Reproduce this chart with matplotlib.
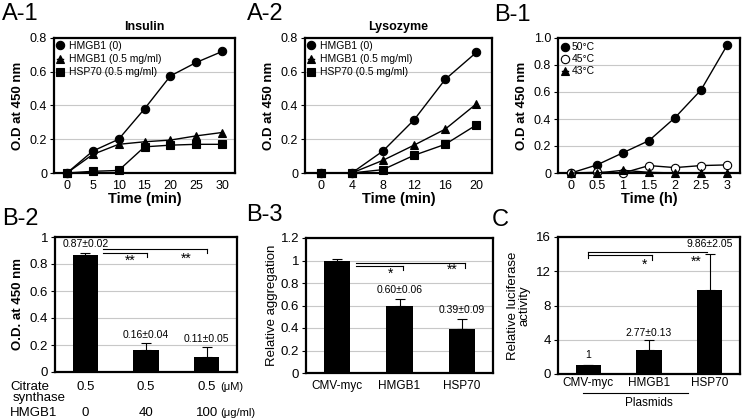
import matplotlib
matplotlib.use("Agg")
import matplotlib.pyplot as plt
import numpy as np

plt.rcParams['font.family'] = ['Liberation Sans', 'DejaVu Sans']

# A-1 insulin
ins_time = ["0", "5", "10", "15", "20", "25", "30"]
ins_hmgb1_0 = [0, 0.13, 0.20, 0.38, 0.575, 0.655, 0.72]
ins_hmgb1_05 = [0, 0.11, 0.17, 0.185, 0.195, 0.22, 0.24]
ins_hsp70 = [0, 0.01, 0.015, 0.155, 0.165, 0.17, 0.17]

# A-2 lysozyme
lys_time = ["0", "4", "8", "12", "16", "20"]
lys_hmgb1_0 = [0, 0, 0.13, 0.315, 0.555, 0.715]
lys_hmgb1_05 = [0, 0, 0.075, 0.165, 0.26, 0.41]
lys_hsp70 = [0, 0, 0.02, 0.105, 0.17, 0.285]

# B-1 temperature
heat_time = ["0", "0.5", "1", "1.5", "2", "2.5", "3"]
heat_50 = [0, 0.06, 0.15, 0.24, 0.41, 0.615, 0.945]
heat_45 = [0, 0.005, 0.0, 0.055, 0.04, 0.055, 0.06]
heat_43 = [0, 0, 0.02, 0.005, 0, 0, 0]

# B-2
cs_vals = [0.87, 0.16, 0.11]
cs_err = [0.015, 0.055, 0.075]
cs_labels = ["0.87±0.02", "0.16±0.04", "0.11±0.05"]
cs_conc = ["0.5", "0.5", "0.5"]
cs_hmgb1 = ["0", "40", "100"]

# B-3
agg_names = ["CMV-myc", "HMGB1", "HSP70"]
agg_vals = [1.0, 0.60, 0.39]
agg_err = [0.01, 0.06, 0.09]
agg_labels = ["", "0.60±0.06", "0.39±0.09"]

# C
luc_names = ["CMV-myc", "HMGB1", "HSP70"]
luc_vals = [1.0, 2.77, 9.86]
luc_err = [0.05, 1.25, 4.1]
luc_labels = ["1", "2.77±0.13", "9.86±2.05"]

W, H = 744, 420
fig = plt.figure(figsize=(7.44, 4.2), dpi=100)


def add_ax(left, top, right, bottom):
    return fig.add_axes([left / W, 1 - bottom / H, (right - left) / W, (bottom - top) / H])


def style(ax, yticks, ylabels, ylim, fs=9, xpad=5):
    ax.set_ylim(*ylim)
    ax.set_yticks(yticks)
    ax.set_yticklabels(ylabels, fontsize=fs)
    ax.yaxis.grid(True, color='#c8c8c8', lw=0.8)
    ax.set_axisbelow(True)
    for s in ax.spines.values():
        s.set_linewidth(1.6)
    ax.tick_params(axis='y', length=3, width=0.8, pad=2)
    ax.tick_params(axis='x', length=0, labelsize=fs, pad=xpad)


def line_panel(ax, cats, series, legend_labels, markers, fills):
    x = np.arange(len(cats))
    for ys, lab, m, f in zip(series, legend_labels, markers, fills):
        ax.plot(x, ys, color='black', lw=1, marker=m, ms=6,
                mfc='black' if f else 'white', mec='black', mew=0.8,
                label=lab, clip_on=False, zorder=3)
    ax.set_xlim(-0.5, len(cats) - 0.5)
    ax.set_xticks(x)
    ax.set_xticklabels(cats)


leg_kw = dict(loc='upper left', frameon=False, fontsize=7.5, handlelength=0.6,
              handletextpad=0.5, borderaxespad=0.1, labelspacing=0.3, borderpad=0.2)

# A-1
ax1 = add_ax(54, 38, 235, 173)
line_panel(ax1, ins_time, [ins_hmgb1_0, ins_hmgb1_05, ins_hsp70],
           ["HMGB1 (0)", "HMGB1 (0.5 mg/ml)", "HSP70 (0.5 mg/ml)"], ['o', '^', 's'], [1, 1, 1])
style(ax1, [0, 0.2, 0.4, 0.6, 0.8], ["0", "0.2", "0.4", "0.6", "0.8"], (0, 0.8))
ax1.legend(**leg_kw)
ax1.set_title("Insulin", fontsize=9, fontweight='bold', pad=6)
ax1.set_ylabel("O.D at 450 nm", fontsize=9.5, fontweight='bold', labelpad=4)
ax1.set_xlabel("Time (min)", fontsize=10.5, fontweight='bold', labelpad=0)

# A-2
ax2 = add_ax(305, 38, 492, 173)
line_panel(ax2, lys_time, [lys_hmgb1_0, lys_hmgb1_05, lys_hsp70],
           ["HMGB1 (0)", "HMGB1 (0.5 mg/ml)", "HSP70 (0.5 mg/ml)"], ['o', '^', 's'], [1, 1, 1])
style(ax2, [0, 0.2, 0.4, 0.6, 0.8], ["0", "0.2", "0.4", "0.6", "0.8"], (0, 0.8))
ax2.legend(**leg_kw)
ax2.set_title("Lysozyme", fontsize=9, fontweight='bold', pad=6)
ax2.set_ylabel("O.D at 450 nm", fontsize=9.5, fontweight='bold', labelpad=4)
ax2.set_xlabel("Time (min)", fontsize=10.5, fontweight='bold', labelpad=0)

# B-1
ax3 = add_ax(558, 38, 740, 173)
line_panel(ax3, heat_time, [heat_50, heat_45, heat_43],
           ["50°C", "45°C", "43°C"], ['o', 'o', '^'], [1, 0, 1])
style(ax3, [0, 0.2, 0.4, 0.6, 0.8, 1.0], ["0", "0.2", "0.4", "0.6", "0.8", "1.0"], (0, 1.0))
ax3.legend(loc='upper left', frameon=False, fontsize=7.5, handlelength=0.6, handletextpad=0.3,
           borderaxespad=0.2, labelspacing=0.2, borderpad=0.2)
ax3.set_ylabel("O.D at 450 nm", fontsize=9.5, fontweight='bold', labelpad=4)
ax3.set_xlabel("Time (h)", fontsize=10.5, fontweight='bold', labelpad=0)


def bar_panel(ax, vals, err, bw=0.42):
    x = np.arange(len(vals))
    ax.bar(x, vals, width=bw, color='black', zorder=2)
    ax.errorbar(x, vals, yerr=[np.zeros(len(vals)), err], fmt='none', ecolor='black',
                elinewidth=0.8, capsize=3.5, capthick=0.8, zorder=3)
    ax.set_xlim(-0.5, len(vals) - 0.5)
    ax.set_xticks(x)
    return x


def bracket(ax, x0, x1, y, drop, side):
    ax.plot([x0, x1], [y, y], color='black', lw=0.8)
    xe = x1 if side == 'right' else x0
    ax.plot([xe, xe], [y, y - drop], color='black', lw=0.8)


# B-2
ax4 = add_ax(55, 237, 237, 372)
x4 = bar_panel(ax4, cs_vals, cs_err)
style(ax4, [0, 0.2, 0.4, 0.6, 0.8, 1.0], ["0", "0.2", "0.4", "0.6", "0.8", "1"], (0, 1.0), fs=9.5)
ax4.set_xticklabels([])
ax4.set_ylabel("O.D. at 450 nm", fontsize=9.5, fontweight='bold', labelpad=4)
for xi, v, e, lab in zip(x4, cs_vals, cs_err, cs_labels):
    yy = 0.948 if v > 0.5 else v + e + 0.06
    ax4.text(xi, yy, lab, ha='center', va='center', fontsize=7.5)
bracket(ax4, 0.29, 2.0, 0.911, 0.03, 'right')
bracket(ax4, 0.29, 1.02, 0.881, 0.03, 'right')
ax4.text(0.74, 0.825, "**", ha='center', va='center', fontsize=10)
ax4.text(1.66, 0.835, "**", ha='center', va='center', fontsize=10)
for xi, c, h in zip(x4, cs_conc, cs_hmgb1):
    ax4.text(xi, -0.11, c, ha='center', va='center', fontsize=9.5)
    ax4.text(xi, -0.30, h, ha='center', va='center', fontsize=9.5)
ax4.text(-1.24, -0.11, "Citrate", ha='left', va='center', fontsize=9.5)
ax4.text(-1.19, -0.19, "synthase", ha='left', va='center', fontsize=9.5)
ax4.text(-1.24, -0.30, "HMGB1", ha='left', va='center', fontsize=9.5)
ax4.text(2.23, -0.11, "(μM)", ha='left', va='center', fontsize=8)
ax4.text(2.23, -0.30, "(μg/ml)", ha='left', va='center', fontsize=8)

# B-3
ax5 = add_ax(306, 238, 493, 373)
x5 = bar_panel(ax5, agg_vals, agg_err)
style(ax5, [0, 0.2, 0.4, 0.6, 0.8, 1.0, 1.2], ["0", "0.2", "0.4", "0.6", "0.8", "1", "1.2"],
      (0, 1.2), fs=9.5)
ax5.set_xticklabels(agg_names, fontsize=8.5)
ax5.set_ylabel("Relative aggregation", fontsize=9.5, labelpad=2)
for xi, v, e, lab in zip(x5, agg_vals, agg_err, agg_labels):
    if lab:
        ax5.text(xi, v + e + 0.08, lab, ha='center', va='center', fontsize=7.5)
bracket(ax5, 0.3, 2.05, 0.975, 0.04, 'right')
bracket(ax5, 0.3, 1.05, 0.955, 0.04, 'right')
ax5.text(0.85, 0.88, "*", ha='center', va='center', fontsize=10)
ax5.text(1.85, 0.915, "**", ha='center', va='center', fontsize=10)

# C
ax6 = add_ax(558, 237, 740, 374)
x6 = bar_panel(ax6, luc_vals, luc_err)
style(ax6, [0, 4, 8, 12, 16], ["0", "4", "8", "12", "16"], (0, 16), fs=9.5, xpad=2)
ax6.set_xticklabels(luc_names, fontsize=8.5)
ax6.set_ylabel("Relative luciferase\nactivity", fontsize=9.5, labelpad=4, linespacing=1.0)
ax6.text(0, 2.2, luc_labels[0], ha='center', va='center', fontsize=7.5)
ax6.text(1, 4.8, luc_labels[1], ha='center', va='center', fontsize=7.5)
ax6.text(2, 15.2, luc_labels[2], ha='center', va='center', fontsize=7.5)
ax6.plot([0.0, 1.95], [14.25, 14.25], color='black', lw=0.8)
ax6.plot([0.0, 0.0], [14.25, 13.5], color='black', lw=0.8)
ax6.plot([0.0, 1.05], [13.9, 13.9], color='black', lw=0.8)
ax6.plot([1.05, 1.05], [13.9, 13.35], color='black', lw=0.8)
ax6.text(0.92, 12.8, "*", ha='center', va='center', fontsize=10)
ax6.text(1.77, 13.1, "**", ha='center', va='center', fontsize=10)
ax6.plot([-0.09, 1.64], [-2.2, -2.2], color='black', lw=0.8, clip_on=False)
ax6.text(1.0, -3.35, "Plasmids", ha='center', va='center', fontsize=8.5)

# panel labels
for lab, px, py in [("A-1", 2, 14), ("A-2", 247, 14), ("B-1", 494, 15),
                    ("B-2", 2, 219), ("B-3", 246, 215), ("C", 492, 220)]:
    fig.text(px / W, 1 - py / H, lab, fontsize=17, ha='left', va='center')

fig.savefig("out.png", dpi=100)
